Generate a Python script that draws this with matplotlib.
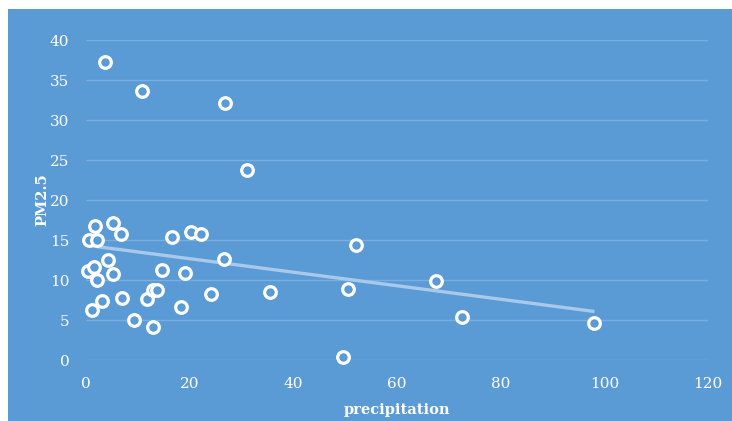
import numpy as np
import matplotlib
matplotlib.use("Agg")
import matplotlib.pyplot as plt
from matplotlib.patches import Rectangle

precipitation = [3.7, 10.8, 26.8, 31.1, 0.6, 1.7, 2.1, 5.2, 6.8, 16.6, 20.3, 22.2, 52.1,
                 4.2, 26.6, 0.4, 1.5, 2.1, 5.2, 14.7, 19.1, 67.6, 1.2, 3.1, 6.9, 11.8,
                 13.0, 13.7, 18.3, 24.1, 35.5, 50.6, 9.3, 12.9, 72.6, 98.1, 49.6]
pm25 = [37.25, 33.6, 32.1, 23.75, 15.0, 16.75, 15.0, 17.1, 15.75, 15.4, 16.0, 15.75, 14.4,
        12.5, 12.6, 11.1, 11.6, 10.0, 10.7, 11.25, 10.9, 9.9, 6.3, 7.4, 7.75, 7.6,
        8.8, 8.7, 6.6, 8.25, 8.5, 8.9, 5.0, 4.1, 5.4, 4.6, 0.4]
x_ticks = [0, 20, 40, 60, 80, 100, 120]
y_ticks = [0, 5, 10, 15, 20, 25, 30, 35, 40]

BG = "#5B9BD5"
W, H = 732, 421
fig = plt.figure(figsize=(W / 100, H / 100), dpi=100)
fig.patch.set_facecolor("white")
fig.add_artist(Rectangle((8 / W, 0), 1 - 8 / W, 1 - 9 / H, transform=fig.transFigure,
                         facecolor=BG, edgecolor="none", zorder=-10))

ax = fig.add_axes([86 / W, 1 - 360 / H, 622 / W, 320 / H])
ax.set_zorder(1)
ax.patch.set_visible(False)
for s in ax.spines.values():
    s.set_visible(False)

ax.set_xlim(0, 120)
ax.set_ylim(0, 40)
ax.set_xticks(x_ticks)
ax.set_yticks(y_ticks)
ax.tick_params(length=0, colors="white", labelsize=11, pad=12)
for lab in ax.get_xticklabels() + ax.get_yticklabels():
    lab.set_family("DejaVu Serif")
ax.yaxis.grid(True, color="#7AAEDF", linewidth=1)
ax.set_axisbelow(True)

x = np.array(precipitation)
y = np.array(pm25)
ax.scatter(x, y, s=70, facecolor=BG, edgecolor="white", linewidth=2.3, zorder=3, clip_on=False)

k, b = np.polyfit(x, y, 1)
xs = np.array([x.min(), x.max()])
ax.plot(xs, k * xs + b, color="#A9C9EA", linewidth=2.4, zorder=2, solid_capstyle="butt")

ax.set_xlabel("precipitation", color="white", fontsize=10.5, fontweight="bold",
              family="DejaVu Serif", labelpad=9)
ax.set_ylabel("PM2.5", color="white", fontsize=10.5, fontweight="bold",
              family="DejaVu Serif", labelpad=0)

fig.savefig("out.png", dpi=100, facecolor=fig.get_facecolor())
